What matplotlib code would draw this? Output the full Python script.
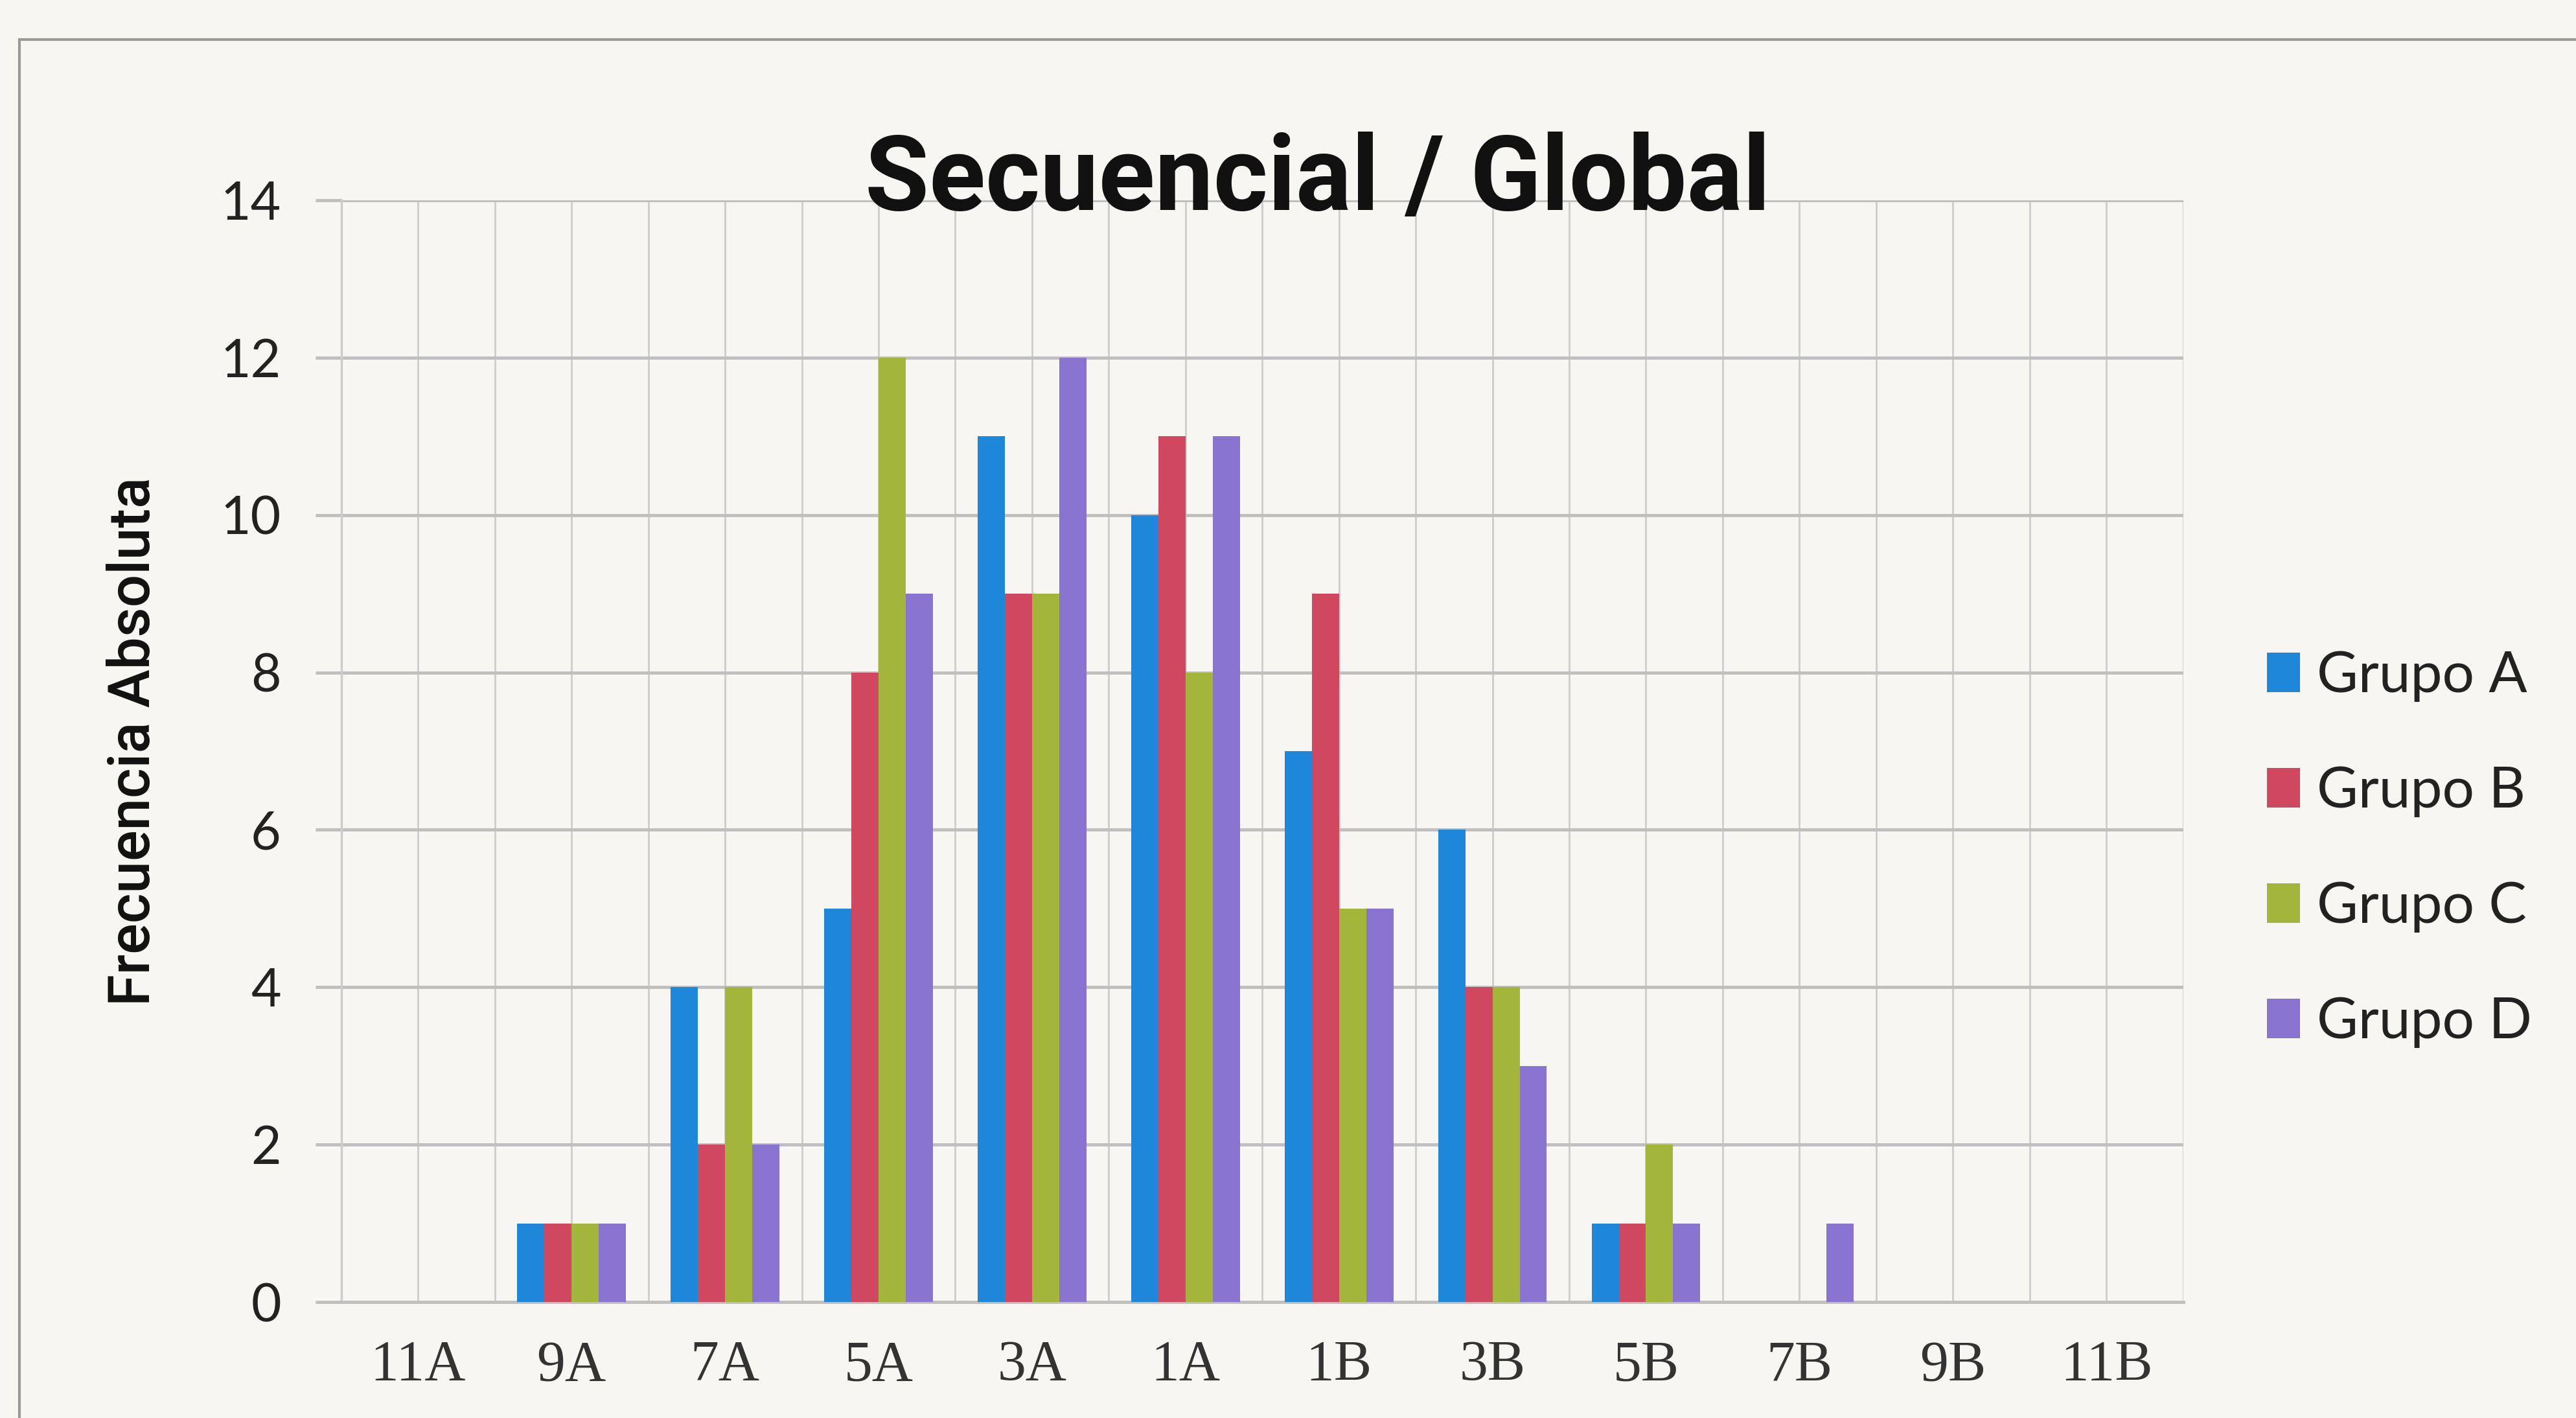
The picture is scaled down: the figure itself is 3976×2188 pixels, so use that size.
import numpy as np
import matplotlib.pyplot as plt
from matplotlib.patches import Rectangle

# categories and counts
categorias = ['11A', '9A', '7A', '5A', '3A', '1A', '1B', '3B', '5B', '7B', '9B', '11B']
grupo_a = [0, 1, 4, 5, 11, 10, 7, 6, 1, 0, 0, 0]
grupo_b = [0, 1, 2, 8, 9, 11, 9, 4, 1, 0, 0, 0]
grupo_c = [0, 1, 4, 12, 9, 8, 5, 4, 2, 0, 0, 0]
grupo_d = [0, 1, 2, 9, 12, 11, 5, 3, 1, 1, 0, 0]
nombres = ['Grupo A', 'Grupo B', 'Grupo C', 'Grupo D']
colores = ['#1F87DA', '#CF4860', '#A3B63B', '#8873CF']

bg = '#f7f6f2'
grid_h = '#bfbfbf'
grid_v = '#cdcdcd'

fig = plt.figure(figsize=(39.76, 21.88), dpi=100, facecolor=bg)
ax = fig.add_axes([0.1325, 0.0818, 0.715, 0.777])
ax.set_facecolor(bg)

x = np.arange(len(categorias))
w = 0.177
series = [grupo_a, grupo_b, grupo_c, grupo_d]
for i, (vals, nom, col) in enumerate(zip(series, nombres, colores)):
    ax.bar(x + (i - 1.5) * w, vals, width=w, color=col, label=nom, zorder=3)

ax.set_xlim(-0.5, 11.5)
ax.set_ylim(0, 14)
ax.set_yticks(range(0, 15, 2))
ax.set_xticks(x)
ax.set_xticks(np.arange(-0.5, 12, 1.0), minor=True)
ax.set_xticklabels(categorias, family='Liberation Serif', fontsize=63, color='#333333')
ax.set_yticklabels([str(v) for v in range(0, 15, 2)], family='Lato', fontsize=58, color='#222222')

ax.grid(axis='y', color=grid_h, lw=3.5, zorder=0)
ax.grid(axis='x', which='both', color=grid_v, lw=2.0, zorder=0)
ax.tick_params(axis='y', length=29, width=3.5, color=grid_h, pad=38)
ax.tick_params(axis='x', which='both', length=0, pad=42)
for s in ['top', 'right']:
    ax.spines[s].set_visible(False)
ax.spines['left'].set_color(grid_v)
ax.spines['left'].set_linewidth(2.5)
ax.spines['bottom'].set_color(grid_h)
ax.spines['bottom'].set_linewidth(3.5)

fig.text(0.5115, 0.852, 'Secuencial / Global', ha='center', va='baseline',
         family='Roboto', fontweight='bold', fontsize=116, color='#111111')
fig.text(0.052, 0.477, 'Frecuencia Absoluta', rotation=90, ha='center', va='center',
         family='Roboto', fontweight='medium', fontsize=64, color='#111111')

fig.legend(loc='center left', bbox_to_anchor=(0.869, 0.401), frameon=False,
           prop={'family': 'Lato', 'size': 63}, handlelength=0.58, handleheight=0.7,
           handletextpad=0.3, labelspacing=1.13, borderpad=0, labelcolor='#222222')

# frame of the chart area in the photo
fig.patches.append(Rectangle((0.0075, -0.1), 1.2, 1.072, transform=fig.transFigure,
                             fill=False, edgecolor='#9a9a9a', lw=3))

fig.savefig('out.png', dpi=100, facecolor=bg)
